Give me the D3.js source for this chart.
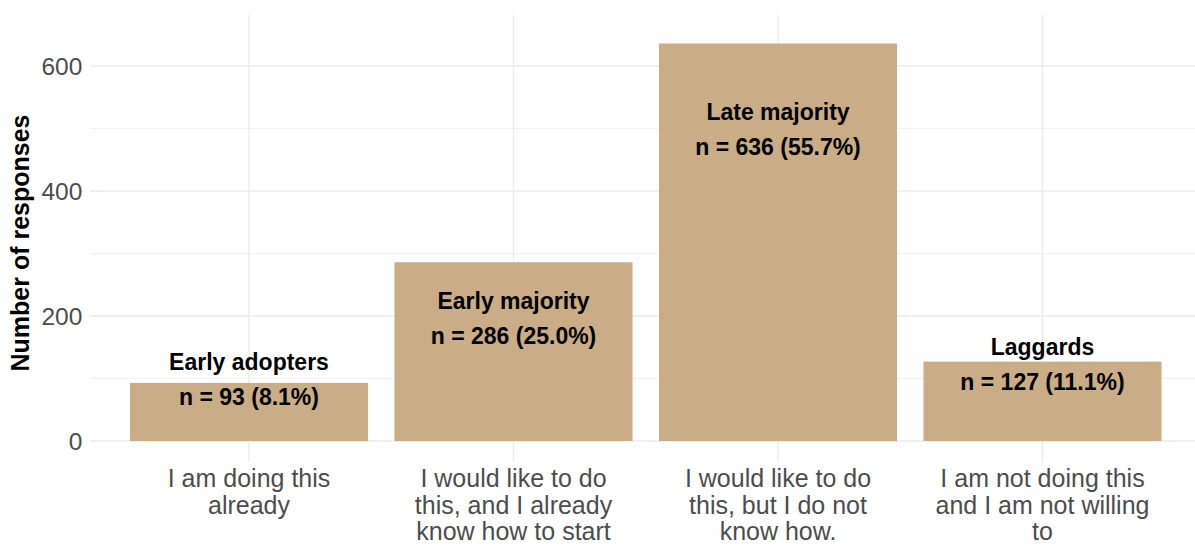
<!DOCTYPE html>
<html>
<head>
<meta charset="utf-8">
<script src="https://cdn.jsdelivr.net/npm/d3@7"></script>
<style>
  html, body { margin: 0; padding: 0; background: #ffffff; }
  svg { display: block; font-family: "Liberation Sans", Arial, Helvetica, sans-serif; }
</style>
</head>
<body>
<svg id="chart" width="1195" height="545"></svg>
<script>
// Survey answers (x-axis categories, one line per array entry)
const categories = [
  ["I am doing this", "already"],
  ["I would like to do", "this, and I already", "know how to start"],
  ["I would like to do", "this, but I do not", "know how."],
  ["I am not doing this", "and I am not willing", "to"]
];
// Adopter group for each answer
const groups = ["Early adopters", "Early majority", "Late majority", "Laggards"];
// Number of responses per answer
const counts = [93, 286, 636, 127];
// Share of all responses, in percent
const shares = [8.1, 25.0, 55.7, 11.1];
// Height (in response units) where each two-line label is centred
const labelAnchors = [85, 184, 486, 110];
// Y-axis tick values
const yTicks = [0, 200, 400, 600];
const yMinorTicks = [100, 300, 500];

const W = 1195, H = 545;
const panel = { left: 90.3, right: 1201.2, top: 15, bottom: 462 };

const svg = d3.select("#chart");
const keys = categories.map((c, i) => i);

const x = d3.scaleBand()
  .domain(keys)
  .range([panel.left, panel.right])
  .paddingInner(0.1)
  .paddingOuter(0.15);

const y = d3.scaleLinear()
  .domain([-33.6, 681.6])
  .range([panel.bottom, panel.top]);

const grid = svg.append("g");
// minor horizontal grid
grid.selectAll("line.minor").data(yMinorTicks).join("line")
  .attr("x1", panel.left).attr("x2", W)
  .attr("y1", d => y(d)).attr("y2", d => y(d))
  .attr("stroke", "#f2f2f2").attr("stroke-width", 1);
// major horizontal grid
grid.selectAll("line.major").data(yTicks).join("line")
  .attr("x1", panel.left).attr("x2", W)
  .attr("y1", d => y(d)).attr("y2", d => y(d))
  .attr("stroke", "#ebebeb").attr("stroke-width", 1.4);
// vertical grid at category centres
grid.selectAll("line.vert").data(keys).join("line")
  .attr("x1", d => x(d) + x.bandwidth() / 2).attr("x2", d => x(d) + x.bandwidth() / 2)
  .attr("y1", panel.top).attr("y2", panel.bottom)
  .attr("stroke", "#ebebeb").attr("stroke-width", 1.4);

// bars
svg.append("g").selectAll("rect").data(keys).join("rect")
  .attr("x", d => x(d))
  .attr("width", x.bandwidth())
  .attr("y", d => y(counts[d]))
  .attr("height", d => y(0) - y(counts[d]))
  .attr("fill", "#caac86");

// y axis
const yAxis = svg.append("g")
  .attr("transform", `translate(${panel.left},0)`)
  .call(d3.axisLeft(y).tickValues(yTicks).tickSize(0).tickPadding(8).tickFormat(d3.format("d")));
yAxis.select(".domain").remove();
yAxis.selectAll("text")
  .attr("fill", "#4d4d4d")
  .style("font-size", "24.5px")
  .attr("dy", "0.36em");

// y axis title
svg.append("text")
  .attr("transform", `translate(29,${(y(0) + panel.top + 30) / 2}) rotate(-90)`)
  .attr("text-anchor", "middle")
  .style("font-size", "25px")
  .style("font-weight", "bold")
  .attr("fill", "#000")
  .text("Number of responses");

// category labels
const xLab = svg.append("g");
keys.forEach(k => {
  const t = xLab.append("text")
    .attr("x", x(k) + x.bandwidth() / 2)
    .attr("y", 487)
    .attr("text-anchor", "middle")
    .attr("fill", "#4d4d4d")
    .style("font-size", "25px");
  categories[k].forEach((line, j) => {
    t.append("tspan")
      .attr("x", x(k) + x.bandwidth() / 2)
      .attr("dy", j === 0 ? 0 : 26.5)
      .text(line);
  });
});

// group labels
const lab = svg.append("g");
keys.forEach(k => {
  const cx = x(k) + x.bandwidth() / 2;
  const cy = y(labelAnchors[k]);
  const t = lab.append("text")
    .attr("text-anchor", "middle")
    .attr("fill", "#000")
    .style("font-size", "23px")
    .style("font-weight", "bold");
  t.append("tspan").attr("x", cx).attr("y", cy - 17.5).text(groups[k]);
  t.append("tspan").attr("x", cx).attr("y", cy + 17.5)
    .text(`n = ${counts[k]} (${shares[k].toFixed(1)}%)`);
});
</script>
</body>
</html>
